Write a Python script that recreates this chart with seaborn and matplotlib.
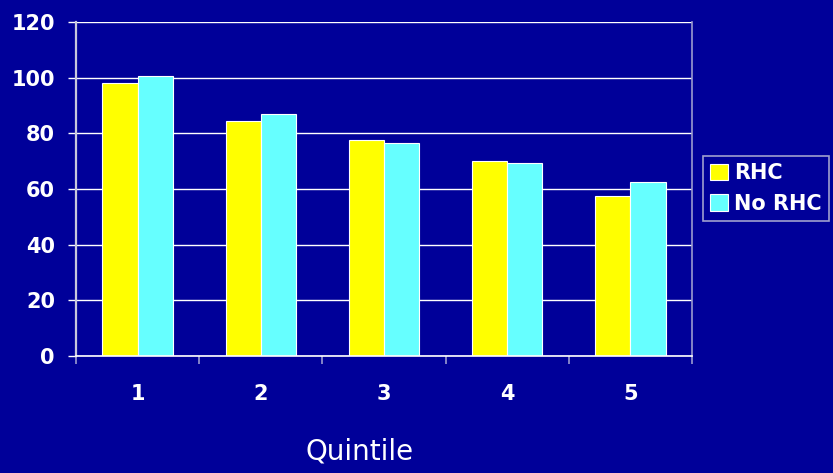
import matplotlib
matplotlib.use("Agg")
import matplotlib.pyplot as plt
import seaborn as sns
import pandas as pd

# ---- data ----
quintiles = ["1", "2", "3", "4", "5"]
rhc = [98.2, 84.3, 77.7, 70.1, 57.4]
no_rhc = [100.5, 86.8, 76.7, 69.3, 62.4]
series_names = ["RHC", "No RHC"]
series_colors = ["#FFFF00", "#66FFFF"]
y_ticks = [0, 20, 40, 60, 80, 100, 120]
x_label = "Quintile"

df = pd.DataFrame({
    "Quintile": quintiles * 2,
    "Value": rhc + no_rhc,
    "Series": [series_names[0]] * len(quintiles) + [series_names[1]] * len(quintiles),
})

bg = "#000099"
W, H = 833, 473
plt.rcParams["font.family"] = ["DejaVu Sans"]

fig = plt.figure(figsize=(W / 100, H / 100), dpi=100, facecolor=bg)
ax = fig.add_axes([76 / W, 1 - 356 / H, (692 - 76) / W, (356 - 22) / H])
ax.set_facecolor(bg)

sns.barplot(data=df, x="Quintile", y="Value", hue="Series", hue_order=series_names,
            palette=series_colors, width=0.57, edgecolor="white", linewidth=0.8,
            saturation=1, ax=ax)

handles, labels = ax.get_legend_handles_labels()
ax.get_legend().remove()

ax.set_xlim(-0.5, len(quintiles) - 0.5)
ax.set_ylim(0, 120)
ax.set_yticks(y_ticks)
ax.set_xlabel("")
ax.set_ylabel("")

ax.set_axisbelow(True)
ax.yaxis.grid(True, color="white", linewidth=1.0)
ax.xaxis.grid(False)

ax.spines["top"].set_visible(False)
ax.spines["right"].set_color("#9A9AD0")
ax.spines["right"].set_linewidth(1.2)
ax.spines["left"].set_color("#C8C8DC")
ax.spines["left"].set_linewidth(1.6)
ax.spines["bottom"].set_color("white")
ax.spines["bottom"].set_linewidth(1.2)

ax.tick_params(axis="y", which="major", length=5.8, width=1.0, color="white",
               labelcolor="white", labelsize=15, pad=9.4)
for t in ax.get_yticklabels():
    t.set_fontweight("bold")

ax.set_xticks(range(len(quintiles)))
ax.set_xticklabels(quintiles)
ax.set_xticks([i - 0.5 for i in range(len(quintiles) + 1)], minor=True)
ax.tick_params(axis="x", which="major", length=0, labelcolor="white", labelsize=15, pad=20)
ax.tick_params(axis="x", which="minor", length=5.8, width=1.2, color="#9A9AD0")
for t in ax.get_xticklabels():
    t.set_fontweight("bold")

fig.text(360 / W, 1 - 451 / H, x_label, ha="center", va="center", color="white", fontsize=20)

leg = fig.legend(handles, labels, loc="upper left", bbox_to_anchor=(703 / W, 1 - 156 / H),
                 borderaxespad=0, frameon=True, fancybox=False, facecolor=bg,
                 edgecolor="#C8C8DC", handlelength=0.85, handleheight=0.85,
                 handletextpad=0.3, borderpad=0.35, labelspacing=0.5,
                 prop={"size": 15, "weight": "bold"})
for txt in leg.get_texts():
    txt.set_color("white")
leg.get_frame().set_linewidth(1.2)

fig.savefig("out.png", dpi=100, facecolor=bg)
